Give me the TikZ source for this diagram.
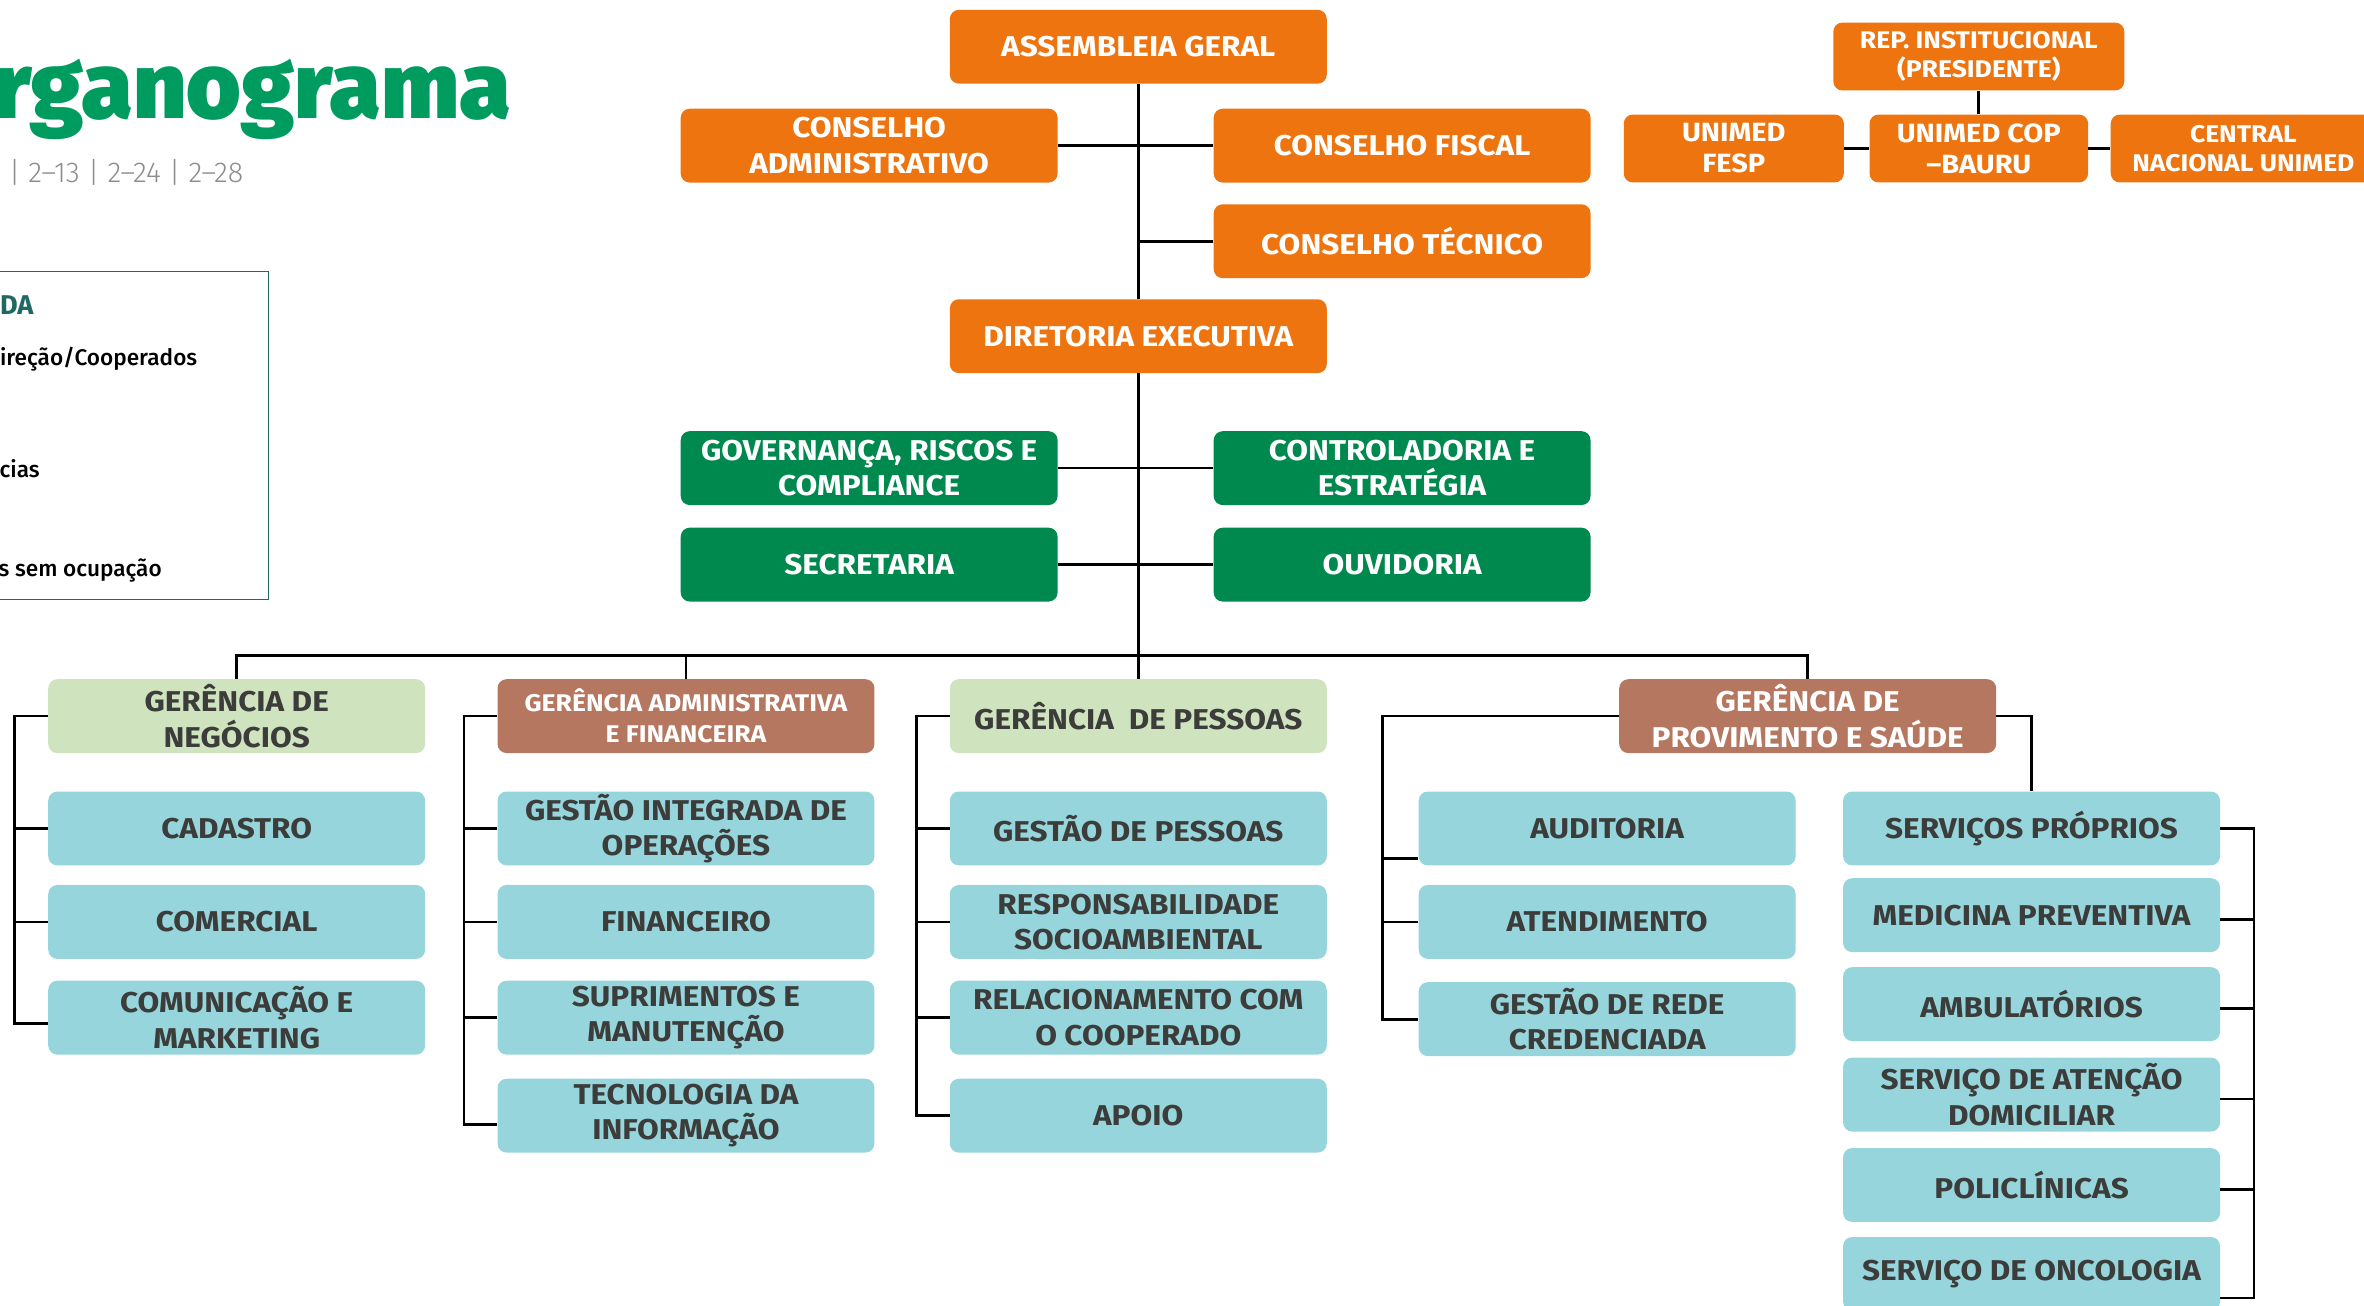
\documentclass[tikz,border=0pt]{standalone}
\usepackage{fontspec}
\setmainfont{Fira Sans}
\newfontfamily\boxfont[FakeStretch=1.1]{Fira Sans}
\newfontfamily\titlefont{Fira Sans Black}
\newfontfamily\lightfont{Fira Sans Light}
\newfontfamily\legfont{Fira Sans Medium}
\usetikzlibrary{calc}

\definecolor{unimedorange}{HTML}{EE7410}
\definecolor{unimedgreen}{HTML}{00894F}
\definecolor{titlegreen}{HTML}{009B5E}
\definecolor{gerlight}{HTML}{CEE3BE}
\definecolor{gerbrown}{HTML}{B67760}
\definecolor{areateal}{HTML}{95D5DB}
\definecolor{textgray}{HTML}{3C3C3B}
\definecolor{legendteal}{HTML}{1E6963}
\definecolor{subgray}{HTML}{8C8C8C}

\begin{document}
\begin{tikzpicture}[x=1pt,y=-1pt,
  box/.style={rounded corners=6pt, minimum width=250pt, minimum height=49pt, inner sep=0pt, align=center, font=\boxfont\bfseries\fontsize{19}{23.5}\selectfont},
  dirbox/.style={box, fill=unimedorange, text=white},
  staffbox/.style={box, fill=unimedgreen, text=white},
  gerbox/.style={box, fill=gerlight, text=textgray},
  gerbrownbox/.style={box, fill=gerbrown, text=white},
  areabox/.style={box, fill=areateal, text=textgray},
  repbox/.style={dirbox, minimum height=45pt, font=\boxfont\bfseries\fontsize{17.5}{20.5}\selectfont},
  link/.style={line width=1.8pt}]
\useasboundingbox (0,0) rectangle (1568,866);
\clip (0,0) rectangle (1568,866);

% title and legend
\node[anchor=base east, inner sep=0pt, text=titlegreen, font=\titlefont\fontsize{62}{62}\selectfont] (title) at (339,78.7) {Organograma};
\node[anchor=base east, inner sep=0pt, text=subgray, font=\lightfont\fontsize{19}{19}\selectfont] (gri) at (161.6,121) {2–9 | 2–13 | 2–24 | 2–28};
\draw[legendteal, line width=1pt] (-10,180) rectangle (178,397.5);
\node[anchor=base east, inner sep=0pt, text=legendteal, font=\bfseries\fontsize{18}{18}\selectfont] (leg) at (22.4,208.5) {LEGENDA};
\node[anchor=base east, inner sep=0pt, font=\legfont\fontsize{15}{15}\selectfont] (legdir) at (131,242.5) {Direção/Cooperados};
\node[anchor=base east, inner sep=0pt, font=\legfont\fontsize{15}{15}\selectfont] (legger) at (26.5,316.7) {Gerências};
\node[anchor=base east, inner sep=0pt, font=\legfont\fontsize{15}{15}\selectfont] (legsem) at (107.5,382.7) {Áreas sem ocupação};

% direcao
\node[dirbox] (asm) at (755,31) {ASSEMBLEIA GERAL};
\node[dirbox] (cadm) at (576.5,96.6) {CONSELHO\\ADMINISTRATIVO};
\node[dirbox] (cfis) at (930,96.6) {CONSELHO FISCAL};
\node[dirbox] (ctec) at (930,160) {CONSELHO TÉCNICO};
\node[dirbox] (dir) at (755,223) {DIRETORIA EXECUTIVA};
\node[staffbox] (gov) at (576.5,310.5) {GOVERNANÇA, RISCOS E\\COMPLIANCE};
\node[staffbox] (ctrl) at (930,310.5) {CONTROLADORIA E\\ESTRATÉGIA};
\node[staffbox] (sec) at (576.5,374.5) {SECRETARIA};
\node[staffbox] (ouv) at (930,374.5) {OUVIDORIA};

% representacao
\node[repbox, minimum width=193pt, font=\boxfont\bfseries\fontsize{16}{19.5}\selectfont] (rep) at (1312.5,37.5) {REP. INSTITUCIONAL\\(PRESIDENTE)};
\node[repbox, minimum width=146pt] (fesp) at (1150,98.5) {UNIMED\\FESP};
\node[repbox, minimum width=145pt] (cop) at (1312.5,98.5) {UNIMED COP\\–BAURU};
\node[repbox, minimum width=176pt, font=\boxfont\bfseries\fontsize{16}{19.5}\selectfont] (central) at (1488,98.5) {CENTRAL\\NACIONAL UNIMED};

% gerencias
\node[gerbox] (gneg) at (157,475) {GERÊNCIA DE\\NEGÓCIOS};
\node[gerbrownbox, font=\boxfont\bfseries\fontsize{16}{20.5}\selectfont] (gadm) at (455,475) {GERÊNCIA ADMINISTRATIVA\\E FINANCEIRA};
\node[gerbox] (gpes) at (755,475) {GERÊNCIA~ DE PESSOAS};
\node[gerbrownbox] (gprov) at (1199,475) {GERÊNCIA DE\\PROVIMENTO E SAÚDE};

% areas
\node[areabox] (cad) at (157,549.5) {CADASTRO};
\node[areabox] (com) at (157,611.5) {COMERCIAL};
\node[areabox] (cmk) at (157,675) {COMUNICAÇÃO E\\MARKETING};

\node[areabox] (gio) at (455,549.5) {GESTÃO INTEGRADA DE\\OPERAÇÕES};
\node[areabox] (fin) at (455,611.5) {FINANCEIRO};
\node[areabox] (sup) at (455,675) {SUPRIMENTOS E\\MANUTENÇÃO};
\node[areabox] (ti) at (455,740) {TECNOLOGIA DA\\INFORMAÇÃO};

\node[areabox] (gp) at (755,549.5) {GESTÃO DE PESSOAS};
\node[areabox] (rsa) at (755,611.5) {RESPONSABILIDADE\\SOCIOAMBIENTAL};
\node[areabox] (rco) at (755,675) {RELACIONAMENTO COM\\O COOPERADO};
\node[areabox] (apo) at (755,740) {APOIO};

\node[areabox] (aud) at (1066,549.5) {AUDITORIA};
\node[areabox] (ate) at (1066,611.5) {ATENDIMENTO};
\node[areabox] (grc) at (1066,676) {GESTÃO DE REDE\\CREDENCIADA};

\node[areabox] (spr) at (1347.5,549.5) {SERVIÇOS PRÓPRIOS};
\node[areabox] (mpr) at (1347.5,607) {MEDICINA PREVENTIVA};
\node[areabox] (amb) at (1347.5,666) {AMBULATÓRIOS};
\node[areabox] (sad) at (1347.5,726) {SERVIÇO DE ATENÇÃO\\DOMICILIAR};
\node[areabox] (pol) at (1347.5,786) {POLICLÍNICAS};
\node[areabox] (onc) at (1347.5,845) {SERVIÇO DE ONCOLOGIA};

% ligacoes
\coordinate (bus) at (755,435);
\coordinate (c1) at (9.5,0);
\coordinate (c2) at (307.8,0);
\coordinate (c3) at (608,0);
\coordinate (c4) at (917,0);
\coordinate (c5) at (1495,0);

\draw[link] (asm) -- (dir);
\draw[link] (dir) -- (bus);
\draw[link] (cadm) -- (cfis);
\draw[link] (ctec.west) -- (ctec.west -| asm);
\draw[link] (gov) -- (ctrl);
\draw[link] (sec) -- (ouv);

\draw[link] (rep) -- (cop);
\draw[link] (fesp) -- (cop);
\draw[link] (cop) -- (central);

\draw[link] (gneg.north) |- (bus) -| (gprov.north);
\draw[link] (gadm.north) -- (gadm.north |- bus);
\draw[link] (gpes) -- (bus);

\draw[link] (gneg.west) -| ([yshift=-4pt]cmk.west -| c1) -- ([yshift=-4pt]cmk.west);
\foreach \n in {cad,com}
  \draw[link] (\n.west) -- (\n.west -| c1);
\draw[link] (gadm.west) -| ([yshift=-6pt]ti.west -| c2) -- ([yshift=-6pt]ti.west);
\foreach \n in {gio,fin,sup}
  \draw[link] (\n.west) -- (\n.west -| c2);
\draw[link] (gpes.west) -| (apo.west -| c3) -- (apo.west);
\foreach \n in {gp,rsa,rco}
  \draw[link] (\n.west) -- (\n.west -| c3);
\draw[link] (gprov.west) -| (grc.west -| c4) -- (grc.west);
\draw[link] ([yshift=-20pt]aud.west) -- ([yshift=-20pt]aud.west -| c4);
\draw[link] (ate.west) -- (ate.west -| c4);

\draw[link] (gprov.east) -| (spr.north);
\draw[link] (spr.east) -| ([yshift=-16pt]onc.east -| c5) -- ([yshift=-16pt]onc.east);
\foreach \n in {mpr,amb,sad,pol}
  \draw[link] ([yshift=-3pt]\n.east) -- ([yshift=-3pt]\n.east -| c5);
\end{tikzpicture}
\end{document}
